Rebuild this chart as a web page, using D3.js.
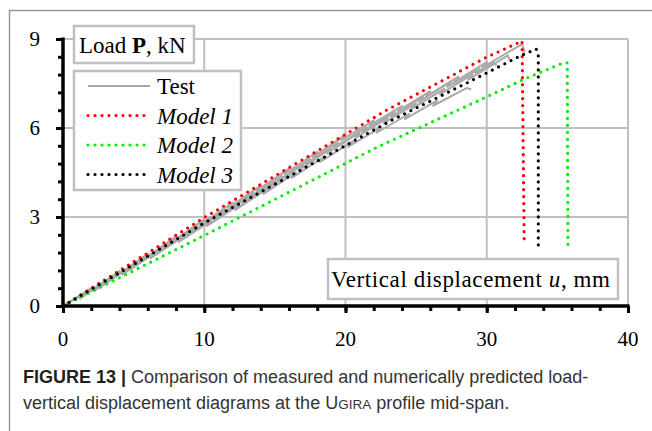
<!DOCTYPE html>
<html>
<head>
<meta charset="utf-8">
<script src="https://cdn.jsdelivr.net/npm/d3@7"></script>
<style>
  body { margin: 0; background: #fff; }
  svg { display: block; }
  .lbl { font-family: "Liberation Serif", "Times New Roman", serif; fill: #000; }
  .cap { font-family: "Liberation Sans", Arial, sans-serif; font-size: 18px; fill: #333; }
</style>
</head>
<body>
<div id="chart"></div>
<script>
// ---- data ----
var xTicks = [0, 10, 20, 30, 40];
var yTicks = [0, 3, 6, 9];
var xMinorStep = 2;
var yMinorStep = 0.6;

// test specimens (u mm, P kN) with small unloading steps
var test1 = [[0,0],[2,0.6],[1.7,0.42],[4,1.18],[3.7,1.0],[6,1.76],[5.7,1.58],[8,2.34],[7.7,2.16],
  [10,2.92],[9.7,2.74],[12,3.49],[11.7,3.31],[14,4.06],[13.7,3.88],[16,4.63],[15.7,4.45],[18,5.2],[17.7,5.02],
  [20,5.77],[19.7,5.59],[22,6.26],[21.7,6.08],[24,6.75],[23.7,6.57],[26,7.24],[25.7,7.06],[28,7.73],[27.7,7.55],
  [30,8.22],[29.7,8.04],[32.5,8.83],[32.7,8.55]];
var test2 = [[0,0],[3,0.84],[2.7,0.66],[5,1.4],[4.7,1.22],[7,1.96],[6.7,1.78],[9,2.52],[8.7,2.34],
  [11,3.08],[10.7,2.9],[13,3.64],[12.7,3.46],[15,4.2],[14.7,4.02],[17,4.76],[16.7,4.58],[19,5.32],[18.7,5.14],
  [21,5.85],[20.7,5.67],[23,6.34],[22.7,6.16],[25,6.83],[24.7,6.65],[27,7.32],[26.7,7.14],[29,7.81],[28.7,7.63],
  [31.5,8.45],[31.6,8.3]];
var test3 = [[0,0],[2.5,0.69],[2.2,0.51],[4.5,1.24],[4.2,1.06],[6.5,1.79],[6.2,1.61],[8.5,2.34],[8.2,2.16],
  [10.5,2.88],[10.2,2.7],[12.5,3.42],[12.2,3.24],[14.5,3.96],[14.2,3.78],[16.5,4.5],[16.2,4.32],[18.5,5.04],[18.2,4.86],
  [20.5,5.55],[20.2,5.37],[22.5,6.02],[22.2,5.84],[24.5,6.48],[24.2,6.3],[26.5,6.93],[26.2,6.75],[28.6,7.35],[28.9,7.3]];
var test4 = [[0,0],[1.5,0.43],[1.2,0.25],[3.5,1.0],[3.2,0.82],[5.5,1.56],[5.2,1.38],[7.5,2.13],[7.2,1.95],
  [9.5,2.7],[9.2,2.52],[11.5,3.26],[11.2,3.08],[13.5,3.83],[13.2,3.65],[15.5,4.39],[15.2,4.21],[17.5,4.96],[17.2,4.78],
  [19.5,5.52],[19.2,5.34],[21.5,6.04],[21.2,5.86],[23.5,6.55],[23.2,6.37],[25.5,7.06],[25.2,6.88],[27.5,7.57],[27.2,7.39],
  [29.5,8.0],[29.2,7.85],[30.5,8.2],[30.7,8.1]];

var model1 = [[0,0],[10,2.98],[22.9,6.6],[30,8.39],[32.5,8.93],[32.65,2.2]];
var model2 = [[0,0],[10,2.38],[22.4,5.39],[29.5,6.94],[32.8,7.68],[35.3,8.17],[35.7,8.2],[35.75,2.0]];
var model3 = [[0,0],[10,2.8],[23.3,6.27],[28.6,7.52],[32.5,8.46],[33.5,8.66],[33.65,8.5],[33.65,2.0]];

var legendNames = ["Test", "Model 1", "Model 2", "Model 3"];
var legendColors = ["#a6a6a6", "#ff0000", "#00ee00", "#000000"];

// ---- layout ----
var W = 652, H = 431;
var svg = d3.select("#chart").append("svg").attr("width", W).attr("height", H);

var x = d3.scaleLinear().domain([0, 40]).range([63, 628]);
var y = d3.scaleLinear().domain([0, 9]).range([306, 39]);

// figure frame
svg.append("path").attr("d", "M9.5,431 V10.5 H652")
  .attr("fill", "none").attr("stroke", "#999").attr("stroke-width", 1.5);

// grid
var grid = svg.append("g").attr("stroke", "#c0c0c0").attr("stroke-width", 2);
grid.selectAll(".gx").data(xTicks.slice(1)).enter().append("line")
  .attr("x1", d => x(d)).attr("x2", d => x(d)).attr("y1", y(9)).attr("y2", y(0));
grid.selectAll(".gy").data(yTicks.slice(1)).enter().append("line")
  .attr("x1", x(0)).attr("x2", x(40)).attr("y1", d => y(d)).attr("y2", d => y(d));

// label boxes
function box(x0, y0, w, h) {
  svg.append("rect").attr("x", x0).attr("y", y0).attr("width", w).attr("height", h)
    .attr("fill", "#fff").attr("stroke", "#c0c0c0").attr("stroke-width", 2.5);
}
box(74, 26, 120, 37);
box(74, 71, 167, 119);
box(328, 259, 290, 40);

var yt = svg.append("text").attr("class", "lbl").attr("x", 79).attr("y", 53).style("font-size", "23px");
yt.append("tspan").text("Load ");
yt.append("tspan").attr("font-weight", "bold").text("P");
yt.append("tspan").text(", kN");

var xt = svg.append("text").attr("class", "lbl").attr("x", 331).attr("y", 287)
  .style("font-size", "23px").attr("textLength", 279);
xt.append("tspan").text("Vertical displacement ");
xt.append("tspan").attr("font-style", "italic").text("u");
xt.append("tspan").text(", mm");

// curves
var line = d3.line().x(d => x(d[0])).y(d => y(d[1]));

svg.append("g").selectAll("path").data([test1, test2, test3, test4]).enter().append("path")
  .attr("d", line).attr("fill", "none").attr("stroke", "#aaaaaa")
  .attr("stroke-width", 2).attr("stroke-linejoin", "round");

var models = [model1, model2, model3];
svg.append("g").selectAll("path").data(models).enter().append("path")
  .attr("d", line).attr("fill", "none").attr("stroke", (d, i) => legendColors[i + 1])
  .attr("stroke-width", 3.2).attr("stroke-linecap", "round").attr("stroke-dasharray", "0 7");

// legend
var lg = svg.append("g").selectAll("g").data(legendNames).enter().append("g")
  .attr("transform", (d, i) => "translate(0," + (86 + i * 29.5) + ")");
lg.append("line").attr("x1", 88).attr("x2", 150).attr("y1", 0).attr("y2", 0)
  .attr("stroke", (d, i) => legendColors[i])
  .attr("stroke-width", (d, i) => i ? 3.2 : 1.8)
  .attr("stroke-linecap", (d, i) => i ? "round" : "butt")
  .attr("stroke-dasharray", (d, i) => i ? "0 7" : null);
lg.append("text").attr("class", "lbl").attr("x", 157).attr("y", 8)
  .style("font-size", "23px")
  .attr("font-style", (d, i) => i ? "italic" : "normal")
  .text(d => d);

// axes (ticks only, labels drawn below)
var xAxisMinor = d3.axisBottom(x).tickValues(d3.range(0, 40.01, xMinorStep)).tickSize(5).tickFormat("");
var xAxis = d3.axisBottom(x).tickValues(xTicks).tickSize(7).tickFormat("");
var yAxisMinor = d3.axisLeft(y).tickValues(d3.range(0, 9.01, yMinorStep)).tickSize(5).tickFormat("");
var yAxis = d3.axisLeft(y).tickValues(yTicks).tickSize(7).tickFormat("");

function styleAxis(g) {
  g.select(".domain").remove();
  g.selectAll("line").attr("stroke", "#000").attr("stroke-width", 3);
}
svg.append("g").attr("transform", "translate(0," + y(0) + ")").call(xAxisMinor).call(styleAxis);
svg.append("g").attr("transform", "translate(0," + y(0) + ")").call(xAxis).call(styleAxis);
svg.append("g").attr("transform", "translate(" + x(0) + ",0)").call(yAxisMinor).call(styleAxis);
svg.append("g").attr("transform", "translate(" + x(0) + ",0)").call(yAxis).call(styleAxis);

svg.append("g").selectAll("text").data(xTicks).enter().append("text")
  .attr("class", "lbl").style("font-size", "21px").attr("text-anchor", "middle")
  .attr("x", d => x(d)).attr("y", y(0) + 40).text(d => d);
svg.append("g").selectAll("text").data(yTicks).enter().append("text")
  .attr("class", "lbl").style("font-size", "21px").attr("text-anchor", "end")
  .attr("x", x(0) - 23).attr("y", d => y(d) + 7).text(d => d);

svg.append("line").attr("x1", x(0)).attr("x2", x(0)).attr("y1", y(9) - 1.5).attr("y2", y(0) + 1.5)
  .attr("stroke", "#000").attr("stroke-width", 3.5);
svg.append("line").attr("x1", x(0) - 1.5).attr("x2", x(40) + 1.5).attr("y1", y(0)).attr("y2", y(0))
  .attr("stroke", "#000").attr("stroke-width", 3.5);

// caption
var c1 = svg.append("text").attr("class", "cap").attr("x", 23).attr("y", 383);
c1.append("tspan").attr("font-weight", "bold").attr("fill", "#231f20").text("FIGURE 13 | ");
c1.append("tspan").text("Comparison of measured and numerically predicted load-");
var c2 = svg.append("text").attr("class", "cap").attr("x", 23).attr("y", 409);
c2.append("tspan").text("vertical displacement diagrams at the U");
c2.append("tspan").style("font-size", "13.5px").text("GIRA");
c2.append("tspan").text(" profile mid-span.");
</script>
</body>
</html>
